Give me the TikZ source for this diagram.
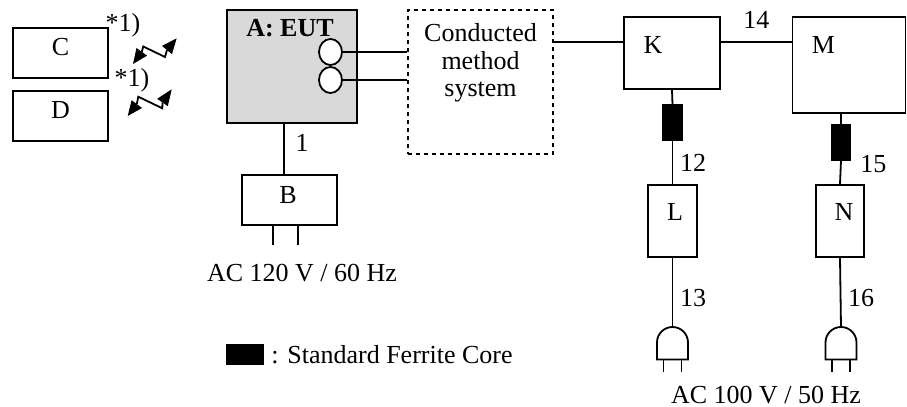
\documentclass[tikz,border=0pt]{standalone}
\usepackage{fontspec}
\setmainfont{Liberation Serif}
\usetikzlibrary{shapes.geometric}

\begin{document}
\begin{tikzpicture}[x=0.5pt, y=-0.5pt, line width=0.9pt,
		font=\fontsize{13}{13.75}\selectfont,
		box/.style 2 args={draw, rectangle, inner sep=0pt, minimum width=#1*0.5pt, minimum height=#2*0.5pt},
		ferrite/.style={box={#1}{35}, fill=black},
		port/.style={draw, ellipse, fill=white, inner sep=0pt, minimum width=11.5pt, minimum height=13pt},
		radio/.style={line join=miter}]
	\useasboundingbox (0,0) rectangle (907,407);
	
	% support units and radio links
	\node[box={95}{50}] (C) at (60.5,53) {};
	\node[box={95}{50}] (D) at (60.5,116) {};
	\node (Clbl) at (60.5,47.5) {C};
	\node (Dlbl) at (60.5,110) {D};
	\node (s1) at (123,25) {*1)};
	\node (s2) at (132,80) {*1)};
	\draw[radio] (141.8,51.8) -- (143.3,46.5) -- (165,57) -- (167,50);
	\fill (133,64) -- (147.1,55.6) -- (136.5,48) -- cycle;
	\fill (176.7,38.3) -- (172,54.2) -- (162,45.9) -- cycle;
	\draw[radio] (136.8,104.1) -- (138.3,96.7) -- (162.3,108.3) -- (162.5,102.5);
	\fill (127.7,116) -- (142,108) -- (131.6,100.2) -- cycle;
	\fill (171.7,89.3) -- (167.8,106.2) -- (157.2,98.8) -- cycle;
	
	% EUT with its power supply
	\node[box={130}{113}, fill=black!15] (A) at (292,66.5) {};
	\node (Albl) at (290,28) {\textbf{A: EUT}};
	\node[port] (p1) at (330.5,52) {};
	\node[port] (p2) at (330.5,80) {};
	\node[box={95}{50}] (B) at (289.5,200) {};
	\node (Blbl) at (288,195.5) {B};
	\coordinate (ab) at (284,150);
	\draw (A.south -| ab) -- (B.north -| ab) node[pos=0.38, right=2pt] {1};
	\foreach \xp in {273,298}
		\draw (\xp,225) -- (\xp,245);
	\node (ac1) at (302,273.5) {AC 120 V / 60 Hz};
	
	% conducted method system
	\node[box={145}{144}, dash pattern=on 2pt off 2pt] (cms) at (480.5,82) {};
	\node[align=center] (cmslbl) at (480.5,63) {Conducted\\method\\system};
	\draw (p1.east) -- (p1.east -| cms.west);
	\draw (p2.east) -- (p2.east -| cms.west);
	
	% K and M
	\node[box={96}{72}] (K) at (672,53) {};
	\node[box={113}{96}] (M) at (849,65) {};
	\node (Klbl) at (653,45) {K};
	\node (Mlbl) at (823.5,45) {M};
	\coordinate (bus) at (600,42);
	\draw (cms.east |- bus) -- (K.west |- bus);
	\draw (K.east |- bus) -- (M.west |- bus) node[midway, above=3pt] {14};
	
	% ferrite cores
	\node[ferrite=19] (fc1) at (672.5,122.5) {};
	\node[ferrite=18] (fc2) at (841,142.5) {};
	\coordinate (mx) at (841,0);
	\draw (K.south) -- (fc1.north);
	\draw (M.south -| mx) -- (fc2.north);
	
	% L and N with their mains plugs
	\node[box={49}{72}] (L) at (672.5,221) {};
	\node[box={48}{72}] (N) at (840,221) {};
	\node (Llbl) at (675,212) {L};
	\node (Nlbl) at (844,212) {N};
	\draw (fc1.south) -- (L.north) node[midway, right] {12};
	\draw (fc2.south) -- (N.north) node[pos=0.14, right=6pt] {15};
	\foreach \dev/\xp/\cable in {L/672.5/13, N/841/16} {
		\coordinate (plug\dev) at (\xp,327);
		\draw (\dev.south) -- (plug\dev) node[pos=0.58, right] {\cable};
		\draw (plug\dev) ++(-15.5,15.5) arc[start angle=180, end angle=0, radius=7.75pt] -- ++(0,17) -- ++(-31,0) -- cycle;
		\draw (plug\dev) ++(-9,32.5) -- ++(0,12);
		\draw (plug\dev) ++(9,32.5) -- ++(0,12);
	}
	\node (ac2) at (766,395) {AC 100 V / 50 Hz};
	
	% legend
	\node[box={36}{19}, fill=black] (fcl) at (245,354.5) {};
	\node[anchor=west] (fcltxt) at (fcl.east) {: Standard Ferrite Core};
\end{tikzpicture}
\end{document}
